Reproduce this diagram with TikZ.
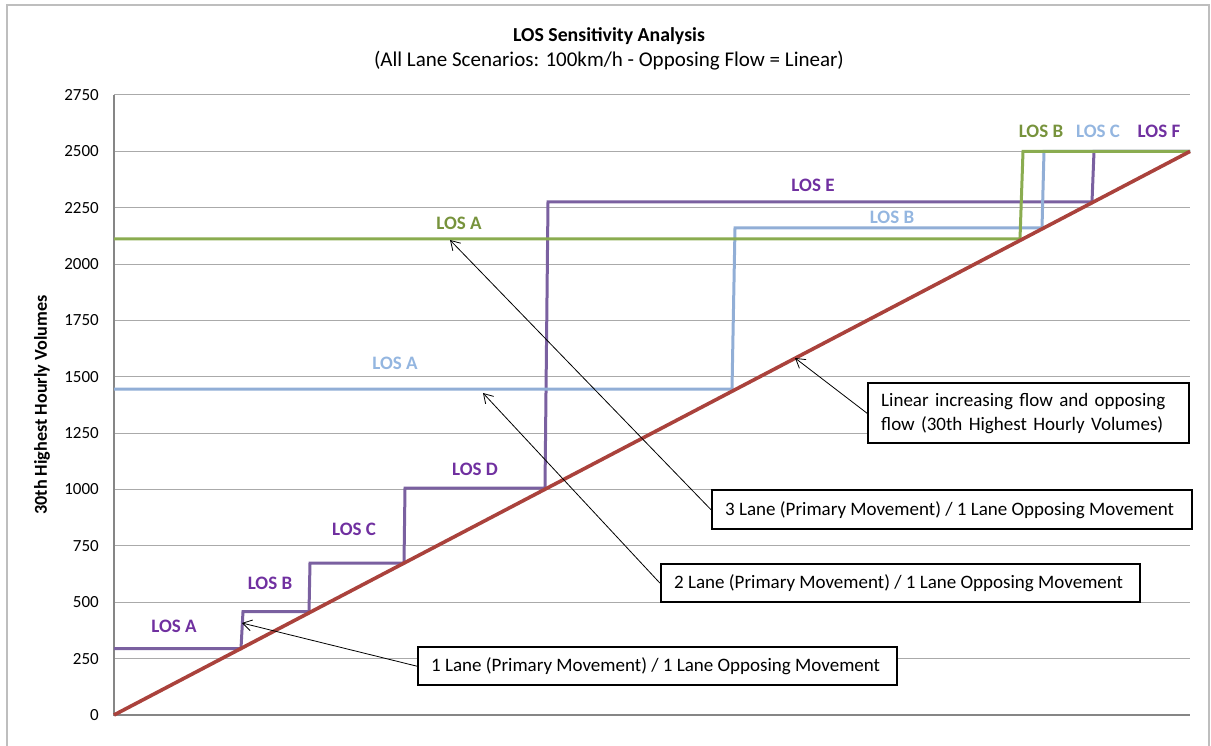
\documentclass[tikz,border=0pt]{standalone}
\usepackage{fontspec}
\setmainfont{Carlito}
\usetikzlibrary{arrows.meta}

\definecolor{gridgray}{RGB}{170,170,170}
\definecolor{axisgray}{RGB}{134,134,134}
\definecolor{framegray}{RGB}{190,190,190}
\definecolor{oneln}{RGB}{122,96,160}
\definecolor{twoln}{RGB}{145,174,214}
\definecolor{threeln}{RGB}{138,172,80}
\definecolor{flowln}{RGB}{170,66,60}
\definecolor{onelbl}{RGB}{112,48,160}
\definecolor{twolbl}{RGB}{148,182,224}
\definecolor{threelbl}{RGB}{119,147,60}

\tikzset{
  grid line/.style={gridgray, line width=1pt},
  axis line/.style={axisgray, line width=1.6pt},
  series/.style={line width=3pt, line join=miter},
  tick label/.style={anchor=east, font=\fontsize{17}{17}\selectfont, inner sep=0pt},
  los/.style={font=\fontsize{19}{19}\selectfont\bfseries, inner sep=0pt},
  callout/.style={draw=black, line width=2.4pt, fill=white, anchor=north west,
    align=left, inner xsep=13pt, inner ysep=0pt, font=\fontsize{19}{24}\selectfont},
  pointer/.style={black, line width=0.8pt, -{Straight Barb[length=9pt,width=11pt]}}
}
% one line of callout text, left aligned in a box of given width
\newcommand\calloutline[2]{\makebox[#1][l]{#2}}

\begin{document}
\begin{tikzpicture}[x=1pt, y=-1pt]
\useasboundingbox (0,0) rectangle (1211,746);

% chart frame
\draw[framegray, line width=1.2pt] (7,746) -- (7,5) -- (1209,5) -- (1209,746);

% titles
\node[font=\fontsize{19.8}{20}\selectfont\bfseries] (title) at (609,36) {LOS Sensitivity Analysis};
\node[font=\fontsize{21}{21}\selectfont] (subtitle) at (609,61) {(All Lane Scenarios: 100km/h - Opposing Flow = Linear)};

% horizontal grid lines and value labels
\foreach \v/\yy in {250/658.6, 500/602.3, 750/545.9, 1000/489.5, 1250/433.2,
                    1500/376.8, 1750/320.5, 2000/264.1, 2250/207.7, 2500/151.4, 2750/95} {
  \draw[grid line] (114,\yy) -- (1190,\yy);
  \node[tick label] at (99,\yy) {\v};
}
\node[tick label] at (99,715) {0};

% axes
\draw[axis line] (114,95) -- (114,715) -- (1190,715);

% axis title
\node[rotate=90, font=\fontsize{18.2}{18}\selectfont\bfseries] (ytitle) at (42,405) {30th Highest Hourly Volumes};

% 1 lane scenario
\draw[series, oneln] (114,648.5) -- (241,648.5) -- (243,611.5) -- (309,611.5) -- (310,563)
  -- (404,563) -- (405,488) -- (545,488) -- (548,202) -- (1092,202) -- (1094,151.4) -- (1190,151.4);
% 2 lane scenario
\draw[series, twoln] (114,389) -- (732,389) -- (735,228) -- (1042,228) -- (1044,151.4) -- (1190,151.4);
% 3 lane scenario
\draw[series, threeln] (114,239) -- (1020,239) -- (1023,151.4) -- (1190,151.4);
% linear flow
\draw[flowln, line width=3.6pt] (114,715) -- (1190,151.4);

% level labels
\node[los, onelbl] (pa) at (174,626) {LOS A};
\node[los, onelbl] (pb) at (270,583) {LOS B};
\node[los, onelbl] (pc) at (354,529) {LOS C};
\node[los, onelbl] (pd) at (475,469) {LOS D};
\node[los, onelbl] (pe) at (813,185) {LOS E};
\node[los, onelbl] (pf) at (1159,131) {LOS F};
\node[los, twolbl] (ba) at (395,363) {LOS A};
\node[los, twolbl] (bb) at (892,217) {LOS B};
\node[los, twolbl] (bc) at (1098,131) {LOS C};
\node[los, threelbl] (ga) at (459,223) {LOS A};
\node[los, threelbl] (gb) at (1041,131) {LOS B};

% callout targets
\coordinate (tflow) at (795,358);
\coordinate (tthree) at (450,240);
\coordinate (ttwo) at (483,393);
\coordinate (tone) at (242,623);

% callouts
\node[callout, minimum width=321pt, minimum height=60pt, text width=295pt] (cflow) at (867,382)
  {Linear increasing flow and opposing\\flow (30th Highest Hourly Volumes)};
\node[callout, minimum width=480pt, minimum height=39pt] (cthree) at (711,489)
  {\calloutline{454pt}{3 Lane (Primary Movement) / 1 Lane Opposing Movement}};
\node[callout, minimum width=479pt, minimum height=38pt] (ctwo) at (660,563)
  {\calloutline{453pt}{2 Lane (Primary Movement) / 1 Lane Opposing Movement}};
\node[callout, minimum width=479pt, minimum height=38pt] (cone) at (417,646)
  {\calloutline{453pt}{1 Lane (Primary Movement) / 1 Lane Opposing Movement}};

\draw[pointer] (cflow.west) -- (tflow);
\draw[pointer] (cthree.west) -- (tthree);
\draw[pointer] (ctwo.west) -- (ttwo);
\draw[pointer] (cone.west) -- (tone);
\end{tikzpicture}
\end{document}
